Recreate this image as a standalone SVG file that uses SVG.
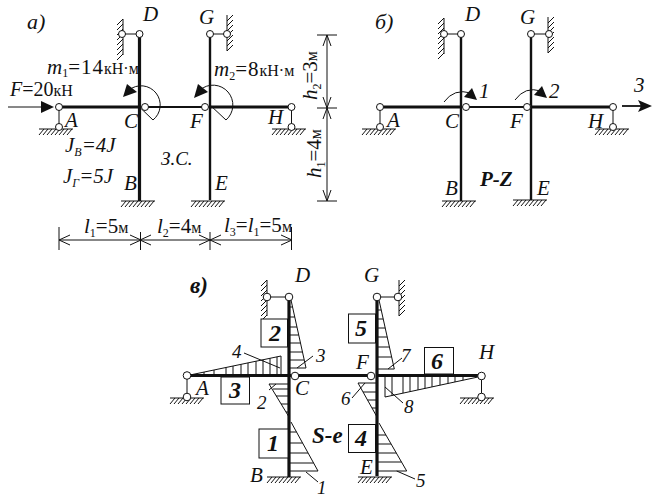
<svg xmlns="http://www.w3.org/2000/svg" xmlns:xlink="http://www.w3.org/1999/xlink" width="659" height="501" viewBox="0 0 659 501">
<style>
text{font-family:"Liberation Serif","Times New Roman",serif;font-style:italic;fill:#111;font-size:21px}
.up{font-style:normal}
.s{font-size:12px;font-style:normal}
.u{font-size:16px;font-style:normal}
.n{font-size:19px}
.bn{font-size:24px;font-weight:bold;text-anchor:middle}
.b{font-weight:bold}
.t{fill:none;stroke:#111;stroke-width:1}
.m{fill:none;stroke:#111;stroke-width:1.8}
.k{fill:none;stroke:#111;stroke-width:3.2}
.v{fill:none;stroke:#111;stroke-width:2.4}
.bx{fill:#fff;stroke:#111;stroke-width:1}
.p{fill:#fff;stroke:#111;stroke-width:1}
.a{fill:#111}
</style>
<defs>
<g id="gnd"><path class="t" d="M-17 0H17M-12 0l-5 6M-8 0l-5 6M-4 0l-5 6M0 0l-5 6M4 0l-5 6M8 0l-5 6M12 0l-5 6M16 0l-5 6"/></g>
<g id="wallL"><path class="t" d="M0 -16V20M0 -16l-6 6M0 -11l-6 6M0 -6l-6 6M0 -1l-6 6M0 4l-6 6M0 9l-6 6M0 14l-6 6M0 19l-6 6"/></g>
<g id="wallR"><path class="t" d="M0 -16V20M6 -16l-6 6M6 -11l-6 6M6 -6l-6 6M6 -1l-6 6M6 4l-6 6M6 9l-6 6M6 14l-6 6"/></g>
</defs>

<g id="panel-a-connectors">
<path class="k" d="M59 107H141M210 107H291"/>
<path class="m" d="M145 107H205"/>
<path class="k" d="M139.500 34V201"/>
<path class="v" d="M210 34V200"/>
<path class="t" d="M122 34H139M210 34H227M59 107V127M291.500 107V127"/>
<path class="t" d="M8 107H45"/>
<path class="a" d="M54 107L41 101V113Z"/>
<use xlink:href="#gnd" href="#gnd" x="56" y="129"/>
<use xlink:href="#gnd" href="#gnd" x="289" y="129"/>
<use xlink:href="#gnd" href="#gnd" x="138" y="201"/>
<use xlink:href="#gnd" href="#gnd" x="208" y="201"/>
<use xlink:href="#wallL" href="#wallL" x="123" y="35"/>
<use xlink:href="#wallR" href="#wallR" x="227" y="31"/>
<path class="t" d="M153 120L139.500 107M153 120A18.500 18.500 0 1 0 129 90"/>
<path class="a" d="M123 97L127 84L137 92Z"/>
<path class="t" d="M226 120L210 105M226 120A18.500 18.500 0 1 0 200 90"/>
<path class="a" d="M194 98L198 84L208 92Z"/>
<path class="t" d="M317 35H337M317 108H337M317 201H337M327 35V201"/>
<path class="t" d="M323 46L327 35L331 46M323 97L327 108L331 97M323 119L327 108L331 119M323 190L327 201L331 190"/>
<path class="t" d="M59 227V250M140.500 232V250M210 232V250M291.500 227V250M59 240H291.500"/>
<path class="t" d="M70 235L59 240L70 245M130 235L141 240L130 245M151 235L140 240L151 245M199 235L210 240L199 245M221 235L210 240L221 245M281 235L292 240L281 245"/>
<circle class="p" cx="59" cy="107" r="3.500"/><circle class="p" cx="59" cy="127" r="3.500"/>
<circle class="p" cx="145" cy="107" r="3.500"/><circle class="p" cx="205" cy="107" r="3.500"/>
<circle class="p" cx="291.500" cy="107" r="3.500"/><circle class="p" cx="291.500" cy="127" r="3.500"/>
<circle class="p" cx="139.500" cy="34" r="3.500"/><circle class="p" cx="122" cy="34" r="3.500"/>
<circle class="p" cx="210" cy="34" r="3.500"/><circle class="p" cx="227" cy="34" r="3.500"/>
</g>
<g id="panel-a-labels">
<text x="27" y="29" style="font-size:22px">а)</text>
<text x="143" y="21">D</text><text x="199" y="24">G</text>
<text x="47" y="74">m<tspan class="s" dy="3">1</tspan><tspan class="up" dy="-3" style="letter-spacing:1px">=14</tspan><tspan class="u">кН·м</tspan></text>
<text x="214" y="76">m<tspan class="s" dy="4">2</tspan><tspan class="up" dy="-4" style="letter-spacing:1px">=8</tspan><tspan class="u">кН·м</tspan></text>
<text x="10" y="96" style="font-size:20px">F<tspan class="up">=20</tspan><tspan class="u">кН</tspan></text>
<text x="65" y="127">A</text><text x="124" y="128">C</text><text x="190" y="128">F</text><text x="268" y="124">H</text>
<text x="65" y="152">J<tspan class="s" dy="4" style="font-style:italic">B</tspan><tspan dy="-4">=4J</tspan></text>
<text x="63" y="183">J<tspan class="s" dy="4" style="font-style:italic">Г</tspan><tspan dy="-4">=5J</tspan></text>
<text x="161" y="165" style="font-size:19px">З.С.</text>
<text x="124" y="190">B</text><text x="215" y="190">E</text>
<text x="84" y="233">l<tspan class="s" dy="4">1</tspan><tspan class="up" dy="-4">=5</tspan><tspan class="u">м</tspan></text>
<text x="157" y="233">l<tspan class="s" dy="4">2</tspan><tspan class="up" dy="-4">=4</tspan><tspan class="u">м</tspan></text>
<text x="224" y="232">l<tspan class="s" dy="4">3</tspan><tspan class="up" dy="-4">=</tspan>l<tspan class="s" dy="4">1</tspan><tspan class="up" dy="-4">=5</tspan><tspan class="u">м</tspan></text>
<text transform="translate(317 100) rotate(-90)">h<tspan class="s" dy="4">2</tspan><tspan class="up" dy="-4">=3</tspan><tspan class="u">м</tspan></text>
<text transform="translate(321 178) rotate(-90)">h<tspan class="s" dy="4">1</tspan><tspan class="up" dy="-4">=4</tspan><tspan class="u">м</tspan></text>
</g>

<g id="panel-b-connectors">
<path class="k" d="M380 107H462M531 107H613"/>
<path class="m" d="M466 107H527"/>
<path class="v" d="M461 34V201M531 34V200"/>
<path class="t" d="M444 34H461M531 34H549M380 107V127M613 107V127"/>
<use xlink:href="#gnd" href="#gnd" x="379" y="129"/>
<use xlink:href="#gnd" href="#gnd" x="612" y="129"/>
<use xlink:href="#gnd" href="#gnd" x="459" y="201"/>
<use xlink:href="#gnd" href="#gnd" x="530" y="200"/>
<use xlink:href="#wallL" href="#wallL" x="444" y="34"/>
<use xlink:href="#wallR" href="#wallR" x="548" y="33"/>
<path class="t" d="M444 102Q454 88 471 93"/>
<path class="a" d="M477 100L464 97L472 88Z"/>
<path class="t" d="M515 100Q525 86 541 91"/>
<path class="a" d="M547 98L534 95L542 86Z"/>
<path class="m" d="M622 106H642"/>
<path class="a" d="M652 106L638 100L641 106L638 112Z"/>
<circle class="p" cx="380" cy="107" r="3.500"/><circle class="p" cx="380" cy="127" r="3.500"/>
<circle class="p" cx="466" cy="107" r="3.500"/><circle class="p" cx="527" cy="107" r="3.500"/>
<circle class="p" cx="613" cy="107" r="3.500"/><circle class="p" cx="613" cy="127" r="3.500"/>
<circle class="p" cx="461" cy="34" r="3.500"/><circle class="p" cx="444" cy="34" r="3.500"/>
<circle class="p" cx="531" cy="34" r="3.500"/><circle class="p" cx="549" cy="34" r="3.500"/>
</g>
<g id="panel-b-labels">
<text x="375" y="29" style="font-size:22px">б)</text>
<text x="465" y="21">D</text><text x="520" y="24">G</text>
<text x="479" y="98">1</text><text x="549" y="98">2</text><text x="634" y="92">3</text>
<text x="387" y="127">A</text><text x="445" y="128">C</text><text x="510" y="128">F</text><text x="588" y="128">H</text>
<text x="445" y="195">B</text><text x="537" y="195">E</text>
<text x="480" y="186" class="b">P-Z</text>
</g>

<g id="panel-c-connectors">
<path class="k" d="M187 375.500H291M296 375.500H372M377 375.500H481"/>
<path class="k" d="M289 297V477M377 297V476"/>
<path class="t" d="M267 297H289M377 297H398M187 376V397M481.500 376V397"/>
<use xlink:href="#gnd" href="#gnd" x="187" y="398"/>
<use xlink:href="#gnd" href="#gnd" x="477" y="398"/>
<use xlink:href="#gnd" href="#gnd" x="284" y="477"/>
<use xlink:href="#gnd" href="#gnd" x="375" y="477"/>
<use xlink:href="#wallL" href="#wallL" x="267" y="296"/>
<use xlink:href="#wallR" href="#wallR" x="399" y="296"/>
<g id="epure">
<path class="t" d="M291 300L306 368H289M289 307H292.500M289 317H294.800M289 327H297M289 335H298.700M289 343H300.500M289 352H302.500M289 360H304.200M297 368L313 356"/>
<path class="t" d="M190 375L281 356V375M204 375V372M214 375V370M226 375V367.500M233 375V366M241 375V364.400M248 375V362.900M256 375V361.200M263 375V359.800M270 375V358.300M277 375V356.800M244 353L280 368"/>
<path class="t" d="M289 417L269 384H288M273 389H288M276 396H288M281 404H288M286 412H288M269 390L276 384"/>
<path class="t" d="M291 422L318 471H290M296.500 432H290M302.600 443H290M308 453H290M313.600 463H290M306 472L318 482"/>
<path class="t" d="M379 300L394.300 369H378M381.200 310H378M383.200 319H378M385.200 328H378M387.200 337H378M389.400 347H378M391.600 357H378M388 369L402 358"/>
<path class="t" d="M478 377L385 397V376M392 376V395.500M403 376V393.100M410 376V391.600M418 376V389.900M425 376V388.400M432 376V386.900M440 376V385.200M448 376V383.500M455 376V382M463 376V380.200M385 387L403 403"/>
<path class="t" d="M377 417L358 383H376M363 392H376M367.500 400H376M372 408H376M352 398L365 383"/>
<path class="t" d="M379 423L406.700 471H378M386 435H378M391 444H378M396.300 453H378M401.500 462H378M396.700 471L415 479"/>
</g>
<circle class="p" cx="187" cy="375.500" r="3.800"/><circle class="p" cx="187" cy="397" r="3.800"/>
<circle class="p" cx="295" cy="376" r="3.800"/><circle class="p" cx="371" cy="376" r="3.800"/>
<circle class="p" cx="481.500" cy="376" r="3.800"/><circle class="p" cx="481.500" cy="397" r="3.800"/>
<circle class="p" cx="289" cy="297" r="3.800"/><circle class="p" cx="267" cy="297" r="3.800"/>
<circle class="p" cx="377" cy="297" r="3.800"/><circle class="p" cx="398" cy="297" r="3.800"/>
</g>
<g id="box-1"><rect class="bx" x="259" y="429" width="29" height="29"/><text x="273" y="451" class="bn">1</text></g>
<g id="box-2"><rect class="bx" x="261" y="319" width="26.500" height="28"/><text x="275" y="341" class="bn">2</text></g>
<g id="box-3"><rect class="bx" x="221" y="377" width="28.500" height="27"/><text x="235" y="398" class="bn">3</text></g>
<g id="box-4"><rect class="bx" x="348.500" y="424.500" width="27" height="28"/><text x="361" y="446" class="bn">4</text></g>
<g id="box-5"><rect class="bx" x="348.500" y="314" width="27" height="29"/><text x="361" y="336" class="bn">5</text></g>
<g id="box-6"><rect class="bx" x="424.500" y="347.500" width="29" height="26.500"/><text x="437" y="369" class="bn">6</text></g>
<g id="panel-c-labels">
<text x="190" y="293" class="b" style="font-size:23px">в)</text>
<text x="295" y="282">D</text><text x="364" y="282">G</text>
<text x="232" y="358" class="n">4</text><text x="316" y="362" class="n">3</text>
<text x="196" y="395">A</text><text x="295" y="395">C</text><text x="356" y="369">F</text><text x="479" y="359">H</text>
<text x="257" y="409" class="n">2</text>
<text x="312" y="443" class="b" style="font-size:23px">S-e</text>
<text x="250" y="482">B</text><text x="317" y="494" class="n">1</text>
<text x="360" y="474">E</text>
<text x="401" y="362" class="n">7</text><text x="341" y="405" class="n">6</text>
<text x="404" y="413" class="n">8</text><text x="416" y="487" class="n">5</text>
</g>
</svg>
